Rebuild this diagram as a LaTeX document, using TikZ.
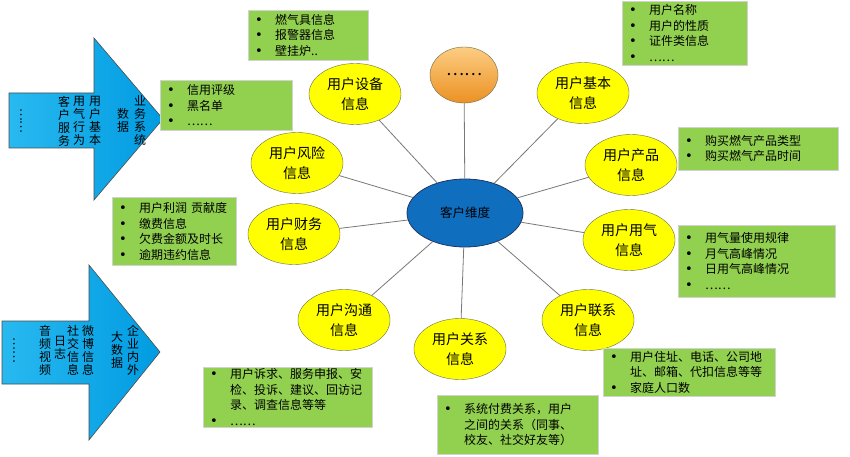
\documentclass[tikz,border=0pt]{standalone}
\usepackage{fontspec}
\setmainfont{Noto Sans CJK SC}
\newfontfamily\dejavu{DejaVu Sans}
\usetikzlibrary{shapes.geometric}
\definecolor{gfill}{RGB}{146,208,80}
\definecolor{yfill}{RGB}{255,255,0}
\definecolor{cblue}{RGB}{16,110,190}
\definecolor{lgray}{RGB}{120,120,120}
\newcommand\bl{\makebox[20pt][l]{{\dejavu\fontsize{13}{13}\selectfont •}}}
\newcommand\cl{\hspace*{20pt}}
\begin{document}
\begin{tikzpicture}[x=1pt,y=-1pt,
  yell/.style={ellipse, draw={rgb,255:red,110;green,110;blue,70}, fill=yfill, minimum width=92pt, minimum height=61pt, inner sep=0pt, align=center, font=\fontsize{14}{20}\selectfont},
  greenbox/.style={draw=gray!35, fill=gfill, anchor=north west, inner xsep=7pt, inner ysep=0pt, align=left, font=\fontsize{12}{15.5}\selectfont},
  vtext/.style={align=center, inner sep=0pt, font=\fontsize{12}{13}\selectfont},
  arrowshape/.style={draw=gray!60!black, line width=0.6pt, left color={rgb,255:red,40;green,185;blue,240}, right color={rgb,255:red,0;green,155;blue,225}},
  link/.style={draw=lgray, line width=0.8pt}
]
\useasboundingbox[fill=white] (0,0) rectangle (850,457);

% left arrows
\path[arrowshape] (9,93) -- (94,93) -- (94,38) -- (163,119) -- (94,200) -- (94,148) -- (9,148) -- cycle;
\path[arrowshape] (2,321) -- (89,321) -- (89,265) -- (160,352) -- (89,440) -- (89,384) -- (2,384) -- cycle;

\node[vtext] (t1) at (140,120) {业\\务\\系\\统};
\node[vtext] (t2) at (123,120) {数\\据};
\node[vtext] (t3) at (95,121) {用\\户\\基\\本};
\node[vtext] (t4) at (79,121) {用\\气\\行\\为};
\node[vtext] (t5) at (64,121) {客\\户\\服\\务};
\node[vtext, rotate=-90] (t6) at (21,121) {……};

\node[vtext] (s1) at (133,350) {企\\业\\内\\外};
\node[vtext] (s2) at (117,350) {大\\数\\据};
\node[vtext] (s3) at (88,350) {微\\博\\信\\息};
\node[vtext] (s4) at (73,350) {社\\交\\信\\息};
\node[vtext] (s5) at (60,348) {日\\志};
\node[vtext] (s6) at (45,350) {音\\频\\视\\频};
\node[vtext, rotate=-90] (s7) at (14,350) {……};

% central ellipse
\node[ellipse, draw={rgb,255:red,30;green,55;blue,100}, line width=0.8pt, fill=cblue, minimum width=116pt, minimum height=68pt, inner sep=0pt, font=\fontsize{12.5}{14}\selectfont] (c) at (465,213) {客户维度};

% satellites
\node[yell] (e1) at (355,94) {用户设备\\信息};
\node[ellipse, draw={rgb,255:red,110;green,110;blue,70}, top color={rgb,255:red,252;green,205;blue,130}, bottom color={rgb,255:red,235;green,145;blue,35}, minimum width=68pt, minimum height=56pt, inner sep=0pt, font=\fontsize{17}{20}\selectfont] (e0) at (464,75) {……};
\node[yell] (e2) at (583,93) {用户基本\\信息};
\node[yell] (e3) at (631,165) {用户产品\\信息};
\node[yell] (e4) at (629,240) {用户用气\\信息};
\node[yell] (e5) at (588,320) {用户联系\\信息};
\node[yell] (e6) at (460,349) {用户关系\\信息};
\node[yell] (e7) at (344,320) {用户沟通\\信息};
\node[yell] (e8) at (294,234) {用户财务\\信息};
\node[yell] (e9) at (297,163) {用户风险\\信息};

\foreach \e in {e0,e1,e2,e3,e4,e5,e6,e7,e8,e9} \draw[link] (c) -- (\e);

% green boxes
\node[greenbox, text width=118pt, minimum height=50pt] (b1) at (160,80) {\bl 信用评级\\\bl 黑名单\\\bl ……};
\node[greenbox, text width=106pt, minimum height=50pt] (b2) at (248,10) {\bl 燃气具信息\\\bl 报警器信息\\\bl 壁挂炉..};
\node[greenbox, text width=111pt, minimum height=64pt] (b3) at (622,1) {\bl 用户名称\\\bl 用户的性质\\\bl 证件类信息\\\bl ……};
\node[greenbox, text width=146pt, minimum height=43pt] (b4) at (678,127) {\bl 购买燃气产品类型\\\bl 购买燃气产品时间};
\node[greenbox, text width=143pt, minimum height=72pt] (b5) at (678,225) {\bl 用气量使用规律\\\bl 月气高峰情况\\\bl 日用气高峰情况\\\bl ……};
\node[greenbox, text width=110pt, minimum height=68pt] (b6) at (112,197) {\bl 用户利润 贡献度\\\bl 缴费信息\\\bl 欠费金额及时长\\\bl 逾期违约信息};
\node[greenbox, text width=155pt, minimum height=60pt] (b7) at (203,367) {\bl 用户诉求、服务申报、安\\\cl 检、投诉、建议、回访记\\\cl 录、调查信息等等\\\bl ……};
\node[greenbox, text width=147pt, minimum height=59pt] (b8) at (437,395) {\bl 系统付费关系，用户\\\cl 之间的关系（同事、\\\cl 校友、社交好友等）};
\node[greenbox, text width=158pt, minimum height=48pt] (b9) at (603,348) {\bl 用户住址、电话、公司地\\\cl 址、邮箱、代扣信息等等\\\bl 家庭人口数};
\end{tikzpicture}
\end{document}
